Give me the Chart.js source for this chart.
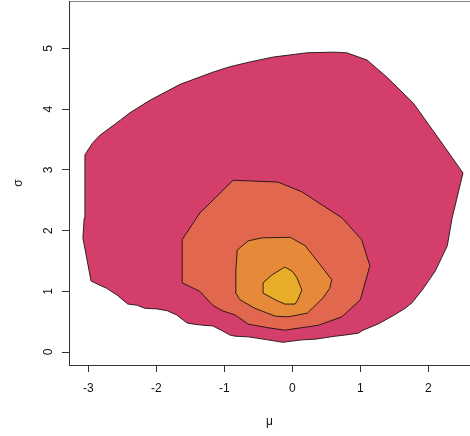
<!DOCTYPE html>
<html>
<head>
<meta charset="utf-8">
<script src="https://cdn.jsdelivr.net/npm/chart.js@4"></script>
<style>
  html, body { margin: 0; padding: 0; background: #fff; }
  canvas { display: block; }
</style>
</head>
<body>
<canvas id="grafica" width="470" height="436"></canvas>
<script>
// contour levels, outermost first
const muNivel1 = [-3.05, -2.94, -2.83, -2.53, -2.39, -2.09, -1.65, -1.17, -0.92, -0.62, -0.28, 0.22, 0.60, 0.80, 1.10, 1.39, 1.78, 2.17, 2.51, 2.39, 2.35, 2.28, 2.10, 1.91, 1.76, 1.66, 1.47, 1.26, 1.04, 0.97, 0.78, 0.63, 0.33, 0.14, -0.14, -0.36, -0.65, -0.84, -0.92, -1.03, -1.17, -1.31, -1.46, -1.55, -1.70, -1.84, -1.99, -2.17, -2.28, -2.42, -2.58, -2.73, -2.83, -2.96, -3.08, -3.06, -3.05];
const sigmaNivel1 = [3.25, 3.44, 3.57, 3.82, 3.94, 4.15, 4.41, 4.61, 4.70, 4.78, 4.86, 4.93, 4.94, 4.93, 4.81, 4.53, 4.10, 3.49, 2.95, 2.39, 2.21, 1.75, 1.33, 1.02, 0.81, 0.72, 0.59, 0.46, 0.36, 0.31, 0.28, 0.26, 0.21, 0.20, 0.16, 0.20, 0.25, 0.26, 0.28, 0.35, 0.43, 0.44, 0.46, 0.48, 0.61, 0.68, 0.71, 0.72, 0.77, 0.79, 0.94, 1.05, 1.10, 1.17, 1.88, 2.21, 3.25];

const muNivel2 = [-0.87, -0.21, 0.14, 0.73, 1.02, 1.14, 1.00, 0.73, 0.38, -0.11, -0.36, -0.65, -0.84, -1.03, -1.17, -1.36, -1.62, -1.62, -1.36, -0.87];
const sigmaNivel2 = [2.83, 2.80, 2.64, 2.21, 1.85, 1.42, 0.86, 0.58, 0.44, 0.36, 0.40, 0.46, 0.61, 0.68, 0.77, 1.00, 1.14, 1.85, 2.29, 2.83];

const muNivel3 = [-0.81, -0.65, -0.45, -0.03, 0.19, 0.38, 0.58, 0.55, 0.45, 0.22, -0.06, -0.25, -0.55, -0.77, -0.84, -0.83, -0.81];
const sigmaNivel3 = [1.68, 1.83, 1.88, 1.89, 1.75, 1.48, 1.19, 1.05, 0.89, 0.64, 0.58, 0.59, 0.72, 0.86, 0.99, 1.35, 1.68];

const muNivel4 = [-0.11, 0.00, 0.07, 0.14, 0.08, 0.04, -0.11, -0.25, -0.43, -0.43, -0.30, -0.11];
const sigmaNivel4 = [1.40, 1.33, 1.22, 1.02, 0.86, 0.79, 0.79, 0.86, 0.97, 1.14, 1.27, 1.40];

const ticksMu = [-3, -2, -1, 0, 1, 2];
const ticksSigma = [0, 1, 2, 3, 4, 5];

const coloresNivel = ['#D33F6A', '#E1674F', '#E68A39', '#E8AE2A'];

const fuente = { family: '"Liberation Sans", Arial, sans-serif', size: 12 };
const colorEje = '#333';

function poligono(mu, sigma, color, orden) {
    return {
        data: mu.map((m, i) => ({ x: m, y: sigma[i] })),
        showLine: true,
        fill: 'shape',
        backgroundColor: color,
        borderColor: 'rgba(20, 10, 10, 0.85)',
        borderWidth: 1,
        pointRadius: 0,
        tension: 0,
        order: orden
    };
}

const ctx = document.getElementById('grafica').getContext('2d');
new Chart(ctx, {
    type: 'scatter',
    data: {
        datasets: [
            poligono(muNivel1, sigmaNivel1, coloresNivel[0], 4),
            poligono(muNivel2, sigmaNivel2, coloresNivel[1], 3),
            poligono(muNivel3, sigmaNivel3, coloresNivel[2], 2),
            poligono(muNivel4, sigmaNivel4, coloresNivel[3], 1)
        ]
    },
    options: {
        responsive: false,
        animation: false,
        layout: { padding: { top: 1, left: 0, right: 0, bottom: 0 } },
        plugins: { legend: { display: false }, tooltip: { enabled: false } },
        scales: {
            x: {
                type: 'linear',
                position: 'bottom',
                min: -3.284,
                max: 2.613,
                afterBuildTicks: s => { s.ticks = ticksMu.map(v => ({ value: v })); },
                afterFit: s => { s.height = 71; s.paddingLeft = 0; s.paddingRight = 0; },
                grid: { drawOnChartArea: false, drawTicks: true, tickLength: 7, color: colorEje },
                border: { display: true, color: colorEje },
                ticks: { font: fuente, color: '#111', padding: 9, maxRotation: 0 },
                title: { display: true, text: 'μ', font: fuente, color: '#111', padding: { top: 0, bottom: 7 } }
            },
            xTop: {
                type: 'linear',
                position: 'top',
                min: -3.284,
                max: 2.613,
                afterFit: s => { s.height = 0; s.paddingLeft = 0; s.paddingRight = 0; },
                grid: { display: false, drawTicks: false },
                border: { display: true, color: '#888' },
                ticks: { display: false }
            },
            y: {
                type: 'linear',
                position: 'left',
                min: -0.214,
                max: 5.783,
                afterBuildTicks: s => { s.ticks = ticksSigma.map(v => ({ value: v })); },
                afterFit: s => { s.width = 69; s.paddingTop = 0; s.paddingBottom = 0; },
                grid: { drawOnChartArea: false, drawTicks: true, tickLength: 7, color: colorEje },
                border: { display: true, color: colorEje },
                ticks: { font: fuente, color: '#111', padding: 10, minRotation: 90, maxRotation: 90, crossAlign: 'center' },
                title: { display: true, text: 'σ', font: fuente, color: '#111', padding: { top: 11, bottom: 0 } }
            }
        }
    }
});
</script>
</body>
</html>
